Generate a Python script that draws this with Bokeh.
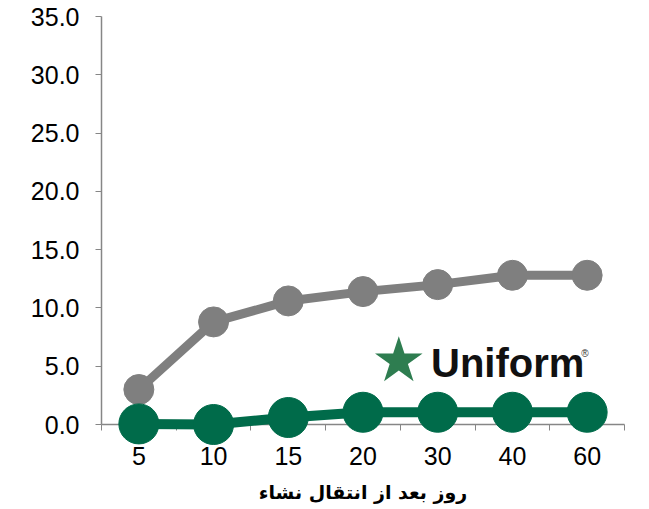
from bokeh.plotting import figure
from bokeh.models import Range1d, FixedTicker, Label, NumeralTickFormatter
from bokeh.embed import file_html
from bokeh.resources import INLINE

categories = ["5", "10", "15", "20", "30", "40", "60"]
gray_values = [3.0, 8.8, 10.6, 11.4, 12.0, 12.8, 12.8]
green_values = [0.05, 0.0, 0.6, 1.05, 1.05, 1.05, 1.05]
y_ticks = [0, 5, 10, 15, 20, 25, 30, 35]
x_title = "روز بعد از انتقال نشاء"

xs = [i + 0.5 for i in range(len(categories))]

p = figure(frame_width=523, frame_height=408, output_backend="svg", toolbar_location=None,
           x_range=Range1d(0, len(categories)), y_range=Range1d(0, 35),
           min_border_left=101, min_border_top=16, min_border_right=14, min_border_bottom=85)
p.outline_line_color = None
p.grid.visible = False
p.background_fill_color = "white"
p.border_fill_color = "white"

gray_c = "#7f7f7f"
green_c = "#006b4a"

r1 = p.line(xs, gray_values, line_color=gray_c, line_width=9)
r2 = p.scatter(xs, gray_values, size=30, fill_color=gray_c, line_color=gray_c)
r3 = p.line(xs, green_values, line_color=green_c, line_width=10)
r4 = p.scatter(xs, green_values, size=40, fill_color=green_c, line_color=green_c)
for r in (r1, r2, r3, r4):
    r.level = "overlay"

# axes
ax = p.xaxis[0]
ax.ticker = FixedTicker(ticks=xs, minor_ticks=list(range(len(categories) + 1)))
ax.major_label_overrides = {x: c for x, c in zip(xs, categories)}
ax.major_tick_out = 0
ax.major_tick_in = 0
ax.minor_tick_out = 6
ax.minor_tick_in = 0
ax.minor_tick_line_color = "#868686"
ax.axis_line_color = "#868686"
ax.axis_line_width = 1.5
ax.major_label_text_font = "Liberation Sans"
ax.major_label_text_font_size = "25px"
ax.major_label_text_color = "black"
ax.major_label_standoff = 16
ax.axis_label = x_title
ax.axis_label_text_font = "DejaVu Sans"
ax.axis_label_text_font_style = "bold"
ax.axis_label_text_font_size = "19px"
ax.axis_label_text_color = "black"
ax.axis_label_standoff = 13

ay = p.yaxis[0]
ay.ticker = FixedTicker(ticks=y_ticks)
ay.formatter = NumeralTickFormatter(format="0.0")
ay.major_tick_out = 6
ay.major_tick_in = 0
ay.minor_tick_line_color = None
ay.major_tick_line_color = "#868686"
ay.axis_line_color = "#868686"
ay.axis_line_width = 1.5
ay.major_label_text_font = "Liberation Sans"
ay.major_label_text_font_size = "25px"
ay.major_label_text_color = "black"
ay.major_label_standoff = 16

# logo
p.add_layout(Label(x=3.98, y=5.6, text="★", text_font="DejaVu Sans", text_font_size="62px",
                   text_color="#2e7d50", text_align="center", text_baseline="middle"))
p.add_layout(Label(x=4.41, y=5.3, text="Uniform", text_font="Liberation Sans", text_font_style="bold",
                   text_font_size="40px", text_color="#111111", text_align="left", text_baseline="alphabetic"))
p.add_layout(Label(x=6.42, y=6.6, text="®", text_font="Liberation Sans",
                   text_font_size="10px", text_color="#333333", text_align="left", text_baseline="top"))

open("out.html", "w").write(file_html(p, INLINE))
